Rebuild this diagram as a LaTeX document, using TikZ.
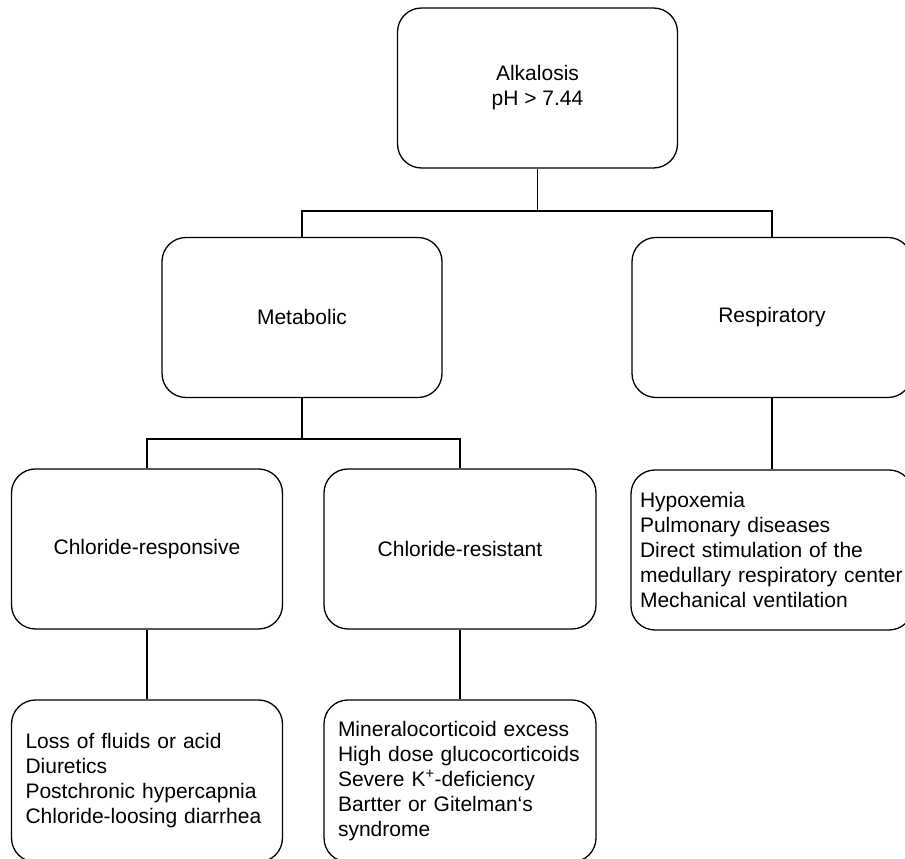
\documentclass[tikz,border=0pt]{standalone}
\usepackage{fontspec}
\setmainfont{Liberation Sans}
\usepackage{tikz}
\tikzset{
	box/.style={draw, line width=1.3pt, rounded corners=24pt, minimum width=280pt, minimum height=160pt, align=center, font=\fontsize{21}{25}\selectfont},
	listbox/.style={box, minimum width=0pt, align=left, inner xsep=14pt, text width=243pt}
}

\begin{document}
\begin{tikzpicture}[x=1pt, y=1pt]
		\useasboundingbox (0,0) rectangle (905,859);
		\clip (0,0) rectangle (905,859);

		\node[box] (alk) at (537.5,771) {Alkalosis\\pH > 7.44};
		\node[box] (met) at (302,541.5) {Metabolic};
		\node[box] (resp) at (772,541.5) {Respiratory};

		\node[box, minimum width=271pt] (clresp) at (147,310) {Chloride-responsive};
		\node[box, minimum width=272pt] (clres) at (460,310) {Chloride-resistant};
		\node[listbox, inner xsep=9pt, text width=264pt] (respc) at (772,309) {Hypoxemia\\Pulmonary diseases\\Direct stimulation of the\\medullary respiratory center\\Mechanical ventilation};

		\node[listbox, minimum height=162pt] (clrespc) at (147,78) {Loss of fluids or acid\\Diuretics\\Postchronic hypercapnia\\Chloride-loosing diarrhea};
		\node[listbox, minimum height=162pt, text width=244pt] (clresc) at (460,78) {Mineralocorticoid excess\\High dose glucocorticoids\\Severe K\textsuperscript{+}-deficiency\\Bartter or Gitelman‘s\\syndrome};

		\coordinate (bar1) at (537.5,648);
		\coordinate (bar2) at (302,420);

		\draw[line width=1.3pt] (alk.south) -- (bar1);
		\draw[line width=1.3pt] (met.north) |- (bar1) -| (resp.north);
		\draw[line width=1.3pt] (met.south) -- (bar2);
		\draw[line width=1.3pt] (clresp.north) |- (bar2) -| (clres.north);
		\draw[line width=1.3pt] (resp.south) -- (respc.north);
		\draw[line width=1.3pt] (clresp.south) -- (clrespc.north);
		\draw[line width=1.3pt] (clres.south) -- (clresc.north);
	\end{tikzpicture}
\end{document}
